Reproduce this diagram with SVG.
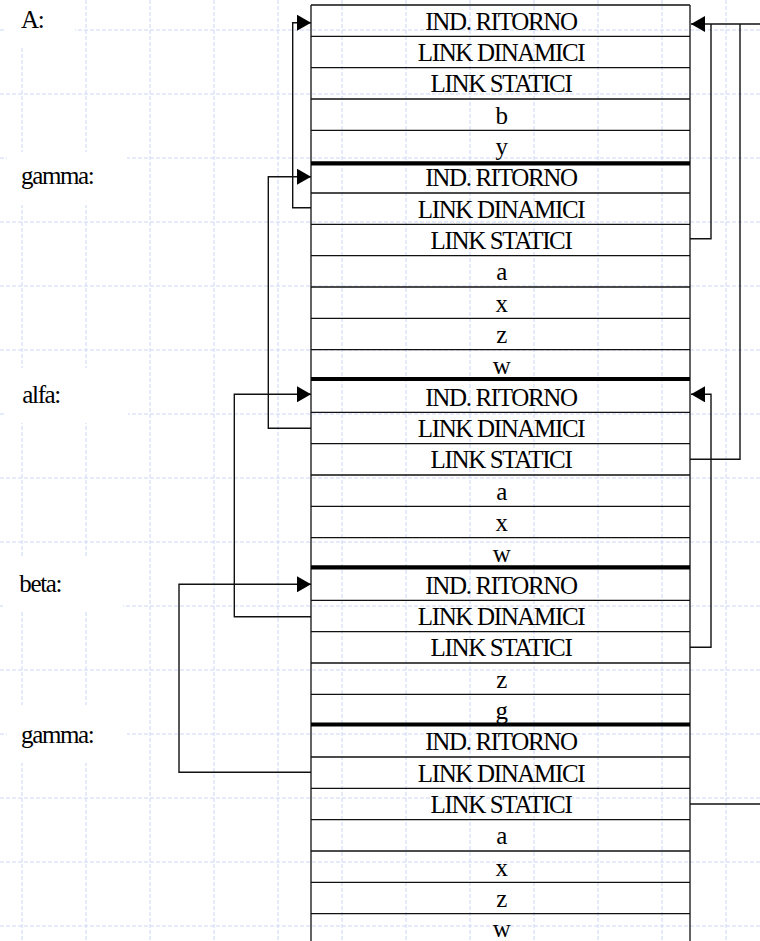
<svg xmlns="http://www.w3.org/2000/svg" width="760" height="941" viewBox="0 0 760 941">
<defs>
<marker id="arr" markerUnits="userSpaceOnUse" markerWidth="15" markerHeight="16" refX="14" refY="8" orient="auto">
<path d="M0,0 L14,8 L0,16 z" fill="#000"/>
</marker>
</defs>
<style>
.grid line{stroke:#cbd7f7;stroke-width:1;stroke-dasharray:4,2}
.cell{stroke:#111;stroke-width:1.3;fill:none}
.thick{stroke:#000;stroke-width:4.2}
.t{font-family:"Liberation Serif","Times New Roman",serif;font-size:25px;letter-spacing:-1.35px;fill:#000}
.c{text-anchor:middle}
.conn path{fill:none;stroke:#111;stroke-width:1.4}
.wb{fill:#fff;stroke:none}
</style>
<rect width="760" height="941" fill="#fff"/>
<g class="grid">
<line x1="22" y1="0" x2="22" y2="941"/><line x1="86" y1="0" x2="86" y2="941"/><line x1="150" y1="0" x2="150" y2="941"/><line x1="214" y1="0" x2="214" y2="941"/><line x1="278" y1="0" x2="278" y2="941"/><line x1="342" y1="0" x2="342" y2="941"/><line x1="406" y1="0" x2="406" y2="941"/><line x1="470" y1="0" x2="470" y2="941"/><line x1="534" y1="0" x2="534" y2="941"/><line x1="598" y1="0" x2="598" y2="941"/><line x1="662" y1="0" x2="662" y2="941"/><line x1="726" y1="0" x2="726" y2="941"/>
<line x1="0" y1="30" x2="760" y2="30"/><line x1="0" y1="94" x2="760" y2="94"/><line x1="0" y1="158" x2="760" y2="158"/><line x1="0" y1="222" x2="760" y2="222"/><line x1="0" y1="286" x2="760" y2="286"/><line x1="0" y1="350" x2="760" y2="350"/><line x1="0" y1="414" x2="760" y2="414"/><line x1="0" y1="478" x2="760" y2="478"/><line x1="0" y1="542" x2="760" y2="542"/><line x1="0" y1="606" x2="760" y2="606"/><line x1="0" y1="670" x2="760" y2="670"/><line x1="0" y1="734" x2="760" y2="734"/><line x1="0" y1="798" x2="760" y2="798"/><line x1="0" y1="862" x2="760" y2="862"/><line x1="0" y1="926" x2="760" y2="926"/>
</g>
<!-- label backgrounds -->
<rect class="wb" x="5" y="0" width="70" height="48"/>
<rect class="wb" x="7" y="152" width="120" height="53"/>
<rect class="wb" x="5" y="368" width="123" height="55"/>
<rect class="wb" x="3" y="558" width="120" height="54"/>
<rect class="wb" x="7" y="705" width="120" height="58"/>

<g id="frame-A">
<text class="t" x="21" y="27.7">A:</text>
<text class="t c" x="501" y="29.5">IND. RITORNO</text>
<text class="t c" x="501" y="60.8">LINK DINAMICI</text>
<text class="t c" x="501" y="92.2">LINK STATICI</text>
<text class="t c" x="501" y="123.5">b</text>
<text class="t c" x="501" y="154.8">y</text>
<path class="cell" d="M311,5 H690 M311,36.3 H690 M311,67.7 H690 M311,99 H690 M311,130.3 H690"/>
</g>

<g id="frame-gamma-1">
<text class="t" x="21" y="184.3">gamma:</text>
<text class="t c" x="501" y="186.2">IND. RITORNO</text>
<text class="t c" x="501" y="217.5">LINK DINAMICI</text>
<text class="t c" x="501" y="248.8">LINK STATICI</text>
<text class="t c" x="501" y="280.2">a</text>
<text class="t c" x="501" y="311.5">x</text>
<text class="t c" x="501" y="342.8">z</text>
<text class="t c" x="501" y="374.1">w</text>
<path class="cell" d="M311,193 H690 M311,224.3 H690 M311,255.7 H690 M311,287 H690 M311,318.3 H690 M311,349.6 H690"/>
</g>

<g id="frame-alfa">
<text class="t" x="22.3" y="402.7">alfa:</text>
<text class="t c" x="501" y="405.5">IND. RITORNO</text>
<text class="t c" x="501" y="436.8">LINK DINAMICI</text>
<text class="t c" x="501" y="468.1">LINK STATICI</text>
<text class="t c" x="501" y="499.5">a</text>
<text class="t c" x="501" y="530.8">x</text>
<text class="t c" x="501" y="562.1">w</text>
<path class="cell" d="M311,412.3 H690 M311,443.6 H690 M311,475 H690 M311,506.3 H690 M311,537.6 H690"/>
</g>

<g id="frame-beta">
<text class="t" x="19.3" y="591.7">beta:</text>
<text class="t c" x="501" y="593.5">IND. RITORNO</text>
<text class="t c" x="501" y="624.8">LINK DINAMICI</text>
<text class="t c" x="501" y="656.1">LINK STATICI</text>
<text class="t c" x="501" y="687.5">z</text>
<text class="t c" x="501" y="718.8">g</text>
<path class="cell" d="M311,600.3 H690 M311,631.6 H690 M311,663 H690 M311,694.3 H690"/>
</g>

<g id="frame-gamma-2">
<text class="t" x="21" y="743.3">gamma:</text>
<text class="t c" x="501" y="750.1">IND. RITORNO</text>
<text class="t c" x="501" y="781.5">LINK DINAMICI</text>
<text class="t c" x="501" y="812.8">LINK STATICI</text>
<text class="t c" x="501" y="844.1">a</text>
<text class="t c" x="501" y="875.5">x</text>
<text class="t c" x="501" y="906.8">z</text>
<text class="t c" x="501" y="936.5">w</text>
<path class="cell" d="M311,757 H690 M311,788.3 H690 M311,819.6 H690 M311,851 H690 M311,882.3 H690 M311,913.6 H690"/>
</g>

<g id="stack-frame-borders">
<path class="cell" d="M311,5 V941 M690,5 V941"/>
<path class="thick" d="M311,163.3 H690 M311,379 H690 M311,567.3 H690 M311,724.5 H690"/>
</g>

<g class="conn" id="connectors">
<path d="M311,207.7 H292.7 V22.7 H311" marker-end="url(#arr)"/>
<path d="M311,428.3 H268.3 V176.7 H311" marker-end="url(#arr)"/>
<path d="M311,616.7 H234.3 V394.3 H311" marker-end="url(#arr)"/>
<path d="M311,772.3 H179 V584.3 H311" marker-end="url(#arr)"/>
<path d="M690,238.7 H711 V24"/>
<path d="M690,459.3 H740 V24"/>
<path d="M760,24 H691" marker-end="url(#arr)"/>
<path d="M690,647.3 H711 V394.3 H691" marker-end="url(#arr)"/>
<path d="M690,804 H760"/>
</g>
</svg>
